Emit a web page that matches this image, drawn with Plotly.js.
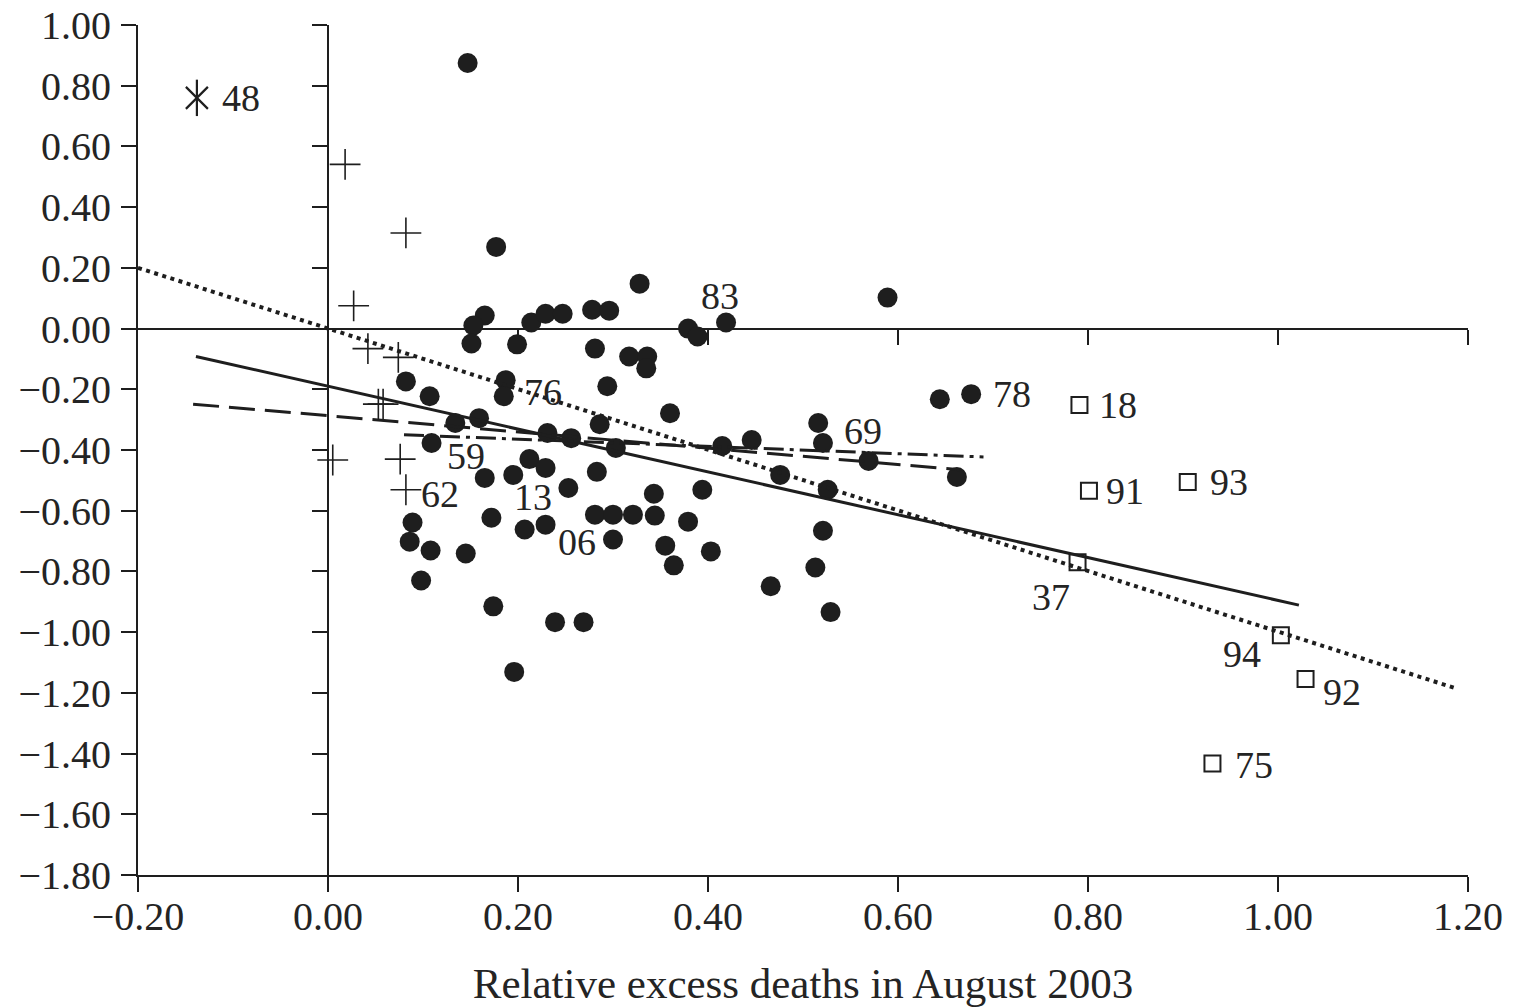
<!DOCTYPE html>
<html><head><meta charset="utf-8">
<script src="https://cdn.plot.ly/plotly-3.0.1.min.js"></script>
<style>html,body{margin:0;padding:0;background:#fff}#chart{width:1524px;height:1007px}</style>
</head><body><div id="chart"></div>
<script>
// Filled circles (departments)
const dotX = [0.147,0.177,0.328,0.589,0.165,0.153,0.151,0.199,0.214,0.229,0.247,0.278,0.296,0.379,0.389,0.419,
  0.281,0.317,0.336,0.335,0.082,0.107,0.187,0.185,0.294,0.360,0.134,0.159,0.286,0.231,0.256,0.303,0.415,0.446,
  0.476,0.109,0.165,0.195,0.212,0.229,0.253,0.283,0.343,0.394,0.172,0.207,0.229,0.281,0.300,0.321,0.344,0.379,
  0.300,0.355,0.364,0.403,0.089,0.086,0.108,0.145,0.098,0.174,0.239,0.269,0.196,0.466,0.513,0.521,0.529,0.526,
  0.516,0.521,0.569,0.662,0.644,0.677];
const dotY = [0.875,0.269,0.148,0.102,0.043,0.010,-0.049,-0.052,0.020,0.049,0.049,0.062,0.059,0.000,-0.026,0.020,
  -0.066,-0.092,-0.092,-0.131,-0.174,-0.223,-0.170,-0.223,-0.190,-0.279,-0.311,-0.295,-0.315,-0.344,-0.361,-0.393,-0.387,-0.367,
  -0.482,-0.377,-0.492,-0.482,-0.430,-0.459,-0.525,-0.472,-0.544,-0.531,-0.623,-0.662,-0.646,-0.613,-0.613,-0.613,-0.616,-0.636,
  -0.695,-0.715,-0.780,-0.734,-0.639,-0.702,-0.731,-0.741,-0.830,-0.915,-0.967,-0.967,-1.131,-0.849,-0.787,-0.666,-0.934,-0.531,
  -0.311,-0.377,-0.436,-0.489,-0.233,-0.216];
// Plus markers
const plusX = [0.018,0.082,0.027,0.042,0.074,0.053,0.058,0.005,0.076,0.082];
const plusY = [0.541,0.315,0.075,-0.066,-0.095,-0.249,-0.249,-0.433,-0.430,-0.531];
// Asterisk marker
const starX = [-0.138];
const starY = [0.760];
// Open squares
const sqX = [0.791,0.801,0.905,0.789,1.003,1.029,0.931];
const sqY = [-0.252,-0.534,-0.505,-0.770,-1.010,-1.154,-1.433];
// Fitted lines
const solidX = [-0.139,1.022],  solidY = [-0.092,-0.911];
const dottedX = [-0.200,1.186], dottedY = [0.200,-1.184];
const dashX = [-0.142,0.665],   dashY = [-0.249,-0.465];
const dashdotX = [0.080,0.690], dashdotY = [-0.350,-0.423];
// Point labels
const labelText = ["48","83","76","78","18","69","59","91","93","62","13","06","37","94","92","75"];
const labelX = [-0.092,0.413,0.226,0.720,0.832,0.563,0.145,0.839,0.948,0.118,0.216,0.262,0.761,0.962,1.067,0.975];
const labelY = [0.761,0.108,-0.210,-0.216,-0.252,-0.338,-0.420,-0.534,-0.505,-0.544,-0.554,-0.702,-0.885,-1.072,-1.197,-1.439];
// Ticks
const xTicks = [-0.2,0,0.2,0.4,0.6,0.8,1.0,1.2];
const yTicks = [1.0,0.8,0.6,0.4,0.2,0,-0.2,-0.4,-0.6,-0.8,-1.0,-1.2,-1.4,-1.6,-1.8];
const innerXTicks = [0.2,0.4,0.6,0.8,1.0,1.2];
const innerYTicks = [1.0,0.8,0.6,0.4,0.2,-0.2,-0.4,-0.6,-0.8,-1.0,-1.2,-1.4,-1.6];
const xTitle = "Relative excess deaths in August 2003";

const fmt = v => (Math.abs(v) < 1e-9 ? 0 : v).toFixed(2).replace('-', '\u2212');
const INK = '#1e1e1e';
const FONT = 'Liberation Serif, Times New Roman, serif';

const lineStyle = (w, d) => ({color: INK, width: w, dash: d});
const traces = [
  {x: dottedX, y: dottedY, mode: 'lines', line: lineStyle(4, '4px,4.5px'), xaxis: 'x2', yaxis: 'y2'},
  {x: solidX, y: solidY, mode: 'lines', line: lineStyle(3, 'solid'), xaxis: 'x2', yaxis: 'y2'},
  {x: dashX, y: dashY, mode: 'lines', line: lineStyle(3, '26px,10px'), xaxis: 'x2', yaxis: 'y2'},
  {x: dashdotX, y: dashdotY, mode: 'lines', line: lineStyle(3, '20px,6px,4px,6px'), xaxis: 'x2', yaxis: 'y2'},
  {x: dotX, y: dotY, mode: 'markers', marker: {symbol: 'circle', size: 20, color: INK, line: {width: 0}}},
  {x: plusX, y: plusY, mode: 'markers', marker: {symbol: 'cross-thin-open', size: 22, color: INK, line: {width: 1.6, color: INK}}},
  {x: starX, y: starY, mode: 'markers', marker: {symbol: 'x-thin-open', size: 22, color: INK, line: {width: 2.2, color: INK}}},
  {x: starX, y: starY, mode: 'markers', marker: {symbol: 'line-ns-open', size: 26, color: INK, line: {width: 2.2, color: INK}}},
  {x: sqX, y: sqY, mode: 'markers', marker: {symbol: 'square-open', size: 16, color: INK, line: {width: 2, color: INK}}}
];

const baseAxis = {
  showgrid: false, zeroline: false, showline: true, linecolor: INK, linewidth: 2,
  ticks: 'outside', ticklen: 15, tickwidth: 2, tickcolor: INK, layer: 'below traces',
  ticklabeloverflow: 'allow',
  tickfont: {family: FONT, size: 40, color: '#242424'}
};

const layout = {
  width: 1524, height: 1007,
  margin: {l: 138, r: 56, t: 25, b: 132},
  paper_bgcolor: '#fff', plot_bgcolor: '#fff',
  showlegend: false,
  xaxis: Object.assign({}, baseAxis, {
    range: [-0.2, 1.2], tickmode: 'array', tickvals: xTicks, ticktext: xTicks.map(fmt),
    anchor: 'y', ticklabelstandoff: -10,
    title: {text: xTitle, font: {family: FONT, size: 43, color: '#242424'}, standoff: 34}
  }),
  yaxis: Object.assign({}, baseAxis, {
    range: [-1.8, 1.0], tickmode: 'array', tickvals: yTicks, ticktext: yTicks.map(fmt),
    anchor: 'x', ticklabelstandoff: 2
  }),
  xaxis2: Object.assign({}, baseAxis, {
    range: [-0.2, 1.2], overlaying: 'x', anchor: 'free', position: 1.8 / 2.8,
    tickmode: 'array', tickvals: innerXTicks, showticklabels: false, side: 'bottom'
  }),
  yaxis2: Object.assign({}, baseAxis, {
    range: [-1.8, 1.0], overlaying: 'y', anchor: 'free', position: 0.2 / 1.4,
    tickmode: 'array', tickvals: innerYTicks, showticklabels: false, side: 'left'
  }),
  annotations: labelText.map((t, i) => ({
    x: labelX[i], y: labelY[i], xref: 'x', yref: 'y', text: t, showarrow: false,
    font: {family: FONT, size: 38, color: '#242424'}, xanchor: 'center', yanchor: 'middle'
  }))
};

Plotly.newPlot('chart', traces, layout, {staticPlot: true, displayModeBar: false});
</script></body></html>
